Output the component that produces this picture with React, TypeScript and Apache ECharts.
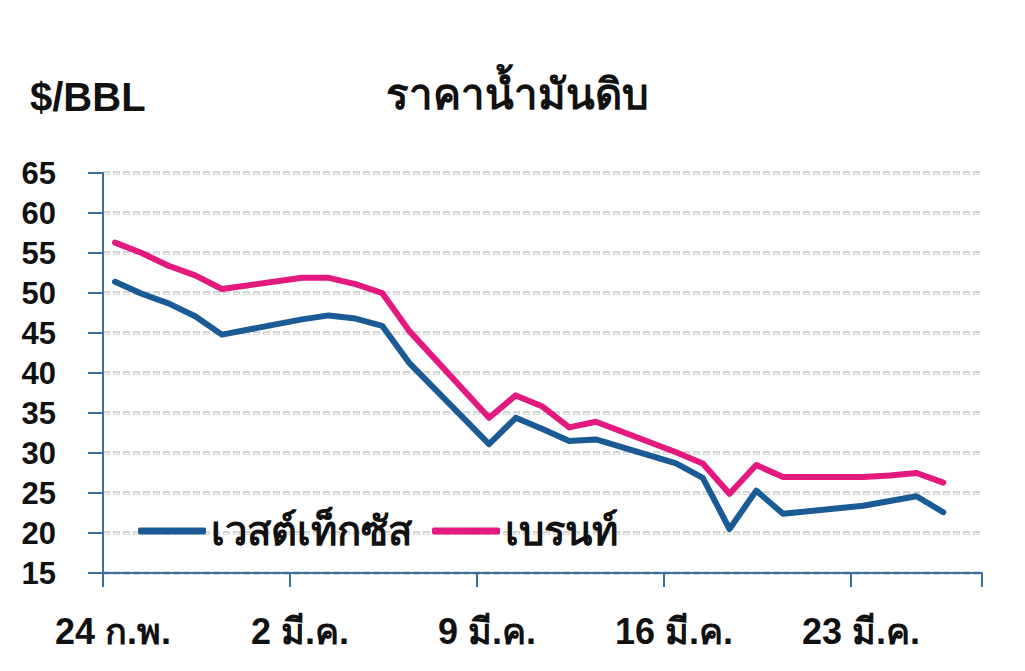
import React, { useEffect, useRef } from "react";
import * as echarts from "echarts";

const dayOffsets = [0, 1, 2, 3, 4, 7, 8, 9, 10, 11, 14, 15, 16, 17, 18, 21, 22, 23, 24, 25, 28, 29, 30, 31];
const wti = [51.4, 49.9, 48.7, 47.1, 44.8, 46.7, 47.2, 46.8, 45.9, 41.3, 31.1, 34.4, 33.0, 31.5, 31.7, 28.7, 26.9, 20.5, 25.3, 22.4, 23.4, 24.0, 24.6, 22.6];
const brent = [56.3, 55.0, 53.4, 52.2, 50.5, 51.9, 51.9, 51.1, 50.0, 45.3, 34.4, 37.2, 35.8, 33.2, 33.9, 30.1, 28.7, 24.9, 28.5, 27.0, 27.0, 27.2, 27.5, 26.3];
const xTickLabels = ["24 ก.พ.", "2 มี.ค.", "9 มี.ค.", "16 มี.ค.", "23 มี.ค."];
const seriesNames = ["เวสต์เท็กซัส", "เบรนท์"];
const unitLabel = "$/BBL";
const chartTitle = "ราคาน้ำมันดิบ";

const FONT = "'Liberation Sans', 'DejaVu Sans', 'Noto Sans', sans-serif";
const AXIS_COLOR = "#3a6f9f";

export default function App() {
  const ref = useRef<HTMLDivElement>(null);
  useEffect(() => {
    if (!ref.current) return;
    const chart = echarts.init(ref.current, undefined, { renderer: "svg" });
    chart.setOption({
      animation: false,
      backgroundColor: "#ffffff",
      textStyle: { fontFamily: FONT },
      title: [
        { text: unitLabel, left: 25, top: 72, textStyle: { fontSize: 40, fontWeight: "bold", color: "#111", fontFamily: FONT } },
        { text: chartTitle, left: 381, top: 68, textStyle: { fontSize: 42, fontWeight: "bold", color: "#111", fontFamily: FONT } },
      ],
      legend: {
        left: 133,
        top: 506,
        itemWidth: 68,
        itemHeight: 7,
        itemGap: 20,
        icon: "roundRect",
        textStyle: { fontSize: 40, fontWeight: "bold", color: "#111", fontFamily: FONT },
        data: seriesNames,
      },
      grid: { left: 103, right: 43, top: 173, bottom: 98, containLabel: false },
      xAxis: [
        { type: "value", min: -0.45, max: 32.45, show: false },
        {
          type: "value",
          min: 0,
          max: 32.9,
          interval: 7,
          position: "bottom",
          axisLine: { show: true, onZero: false, lineStyle: { color: AXIS_COLOR, width: 2 } },
          axisTick: { show: true, length: 14, lineStyle: { color: AXIS_COLOR, width: 2 } },
          splitLine: { show: false },
          axisLabel: {
            margin: 40,
            fontSize: 36,
            fontWeight: "bold",
            color: "#111",
            fontFamily: FONT,
            padding: [0, 0, 0, 20],
            formatter: (v: number) => xTickLabels[Math.round(v / 7)] ?? "",
          },
        },
      ],
      yAxis: [
        {
          type: "value",
          min: 15,
          max: 65,
          interval: 5,
          axisLine: { show: true, onZero: false, lineStyle: { color: AXIS_COLOR, width: 2 } },
          axisTick: { show: true, length: 15, lineStyle: { color: AXIS_COLOR, width: 2 } },
          axisLabel: { margin: 47, fontSize: 31, fontWeight: "bold", color: "#111", fontFamily: FONT },
          splitLine: { show: true, lineStyle: { color: "#cfcfcf", width: 3.5, type: [7, 3] } },
        },
        {
          type: "value",
          min: 15,
          max: 65,
          interval: 5,
          position: "left",
          axisLine: { show: false },
          axisTick: { show: false },
          axisLabel: { show: false },
          splitLine: { show: true, lineStyle: { color: "#ffffff", width: 1.2, type: [5, 5], dashOffset: -1 } },
        },
      ],
      series: [
        {
          name: seriesNames[0],
          type: "line",
          xAxisIndex: 0,
          yAxisIndex: 0,
          data: dayOffsets.map((d, i) => [d, wti[i]]),
          showSymbol: false,
          symbol: "none",
          lineStyle: { color: "#1a5a95", width: 6, cap: "round", join: "round" },
          itemStyle: { color: "#1a5a95" },
        },
        {
          name: seriesNames[1],
          type: "line",
          xAxisIndex: 0,
          yAxisIndex: 0,
          data: dayOffsets.map((d, i) => [d, brent[i]]),
          showSymbol: false,
          symbol: "none",
          lineStyle: { color: "#e3197f", width: 6, cap: "round", join: "round" },
          itemStyle: { color: "#e3197f" },
        },
      ],
    });
    return () => chart.dispose();
  }, []);
  return <div ref={ref} style={{ position: "absolute", left: 0, top: 0, width: 1025, height: 671 }} />;
}
